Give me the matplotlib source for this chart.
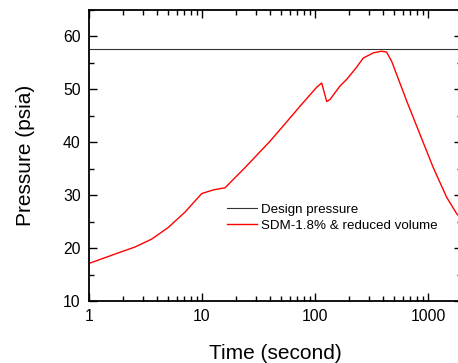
import matplotlib
matplotlib.use("Agg")
import matplotlib.pyplot as plt
from matplotlib.ticker import LogLocator, MultipleLocator, FixedLocator, FixedFormatter

plt.rcParams["font.family"] = ["Liberation Sans", "DejaVu Sans"]

# Design pressure limit (psia)
DESIGN_PRESSURE = 57.7

# SDM-1.8% & reduced volume case
time_s = [1, 1.82, 2.55, 3.59, 5.03, 7.07, 9.94, 12.6, 16.0, 24.0, 40.0, 52.4,
          73.6, 103.5, 114.6, 127, 136, 166, 191, 230, 267, 328, 387, 430,
          477, 648, 849, 1114, 1463, 1795, 2000]
pressure = [17.1, 19.1, 20.2, 21.7, 23.9, 26.8, 30.3, 31.0, 31.4, 35.2, 40.2,
            43.1, 46.8, 50.4, 51.2, 47.7, 48.1, 50.6, 51.9, 54.0, 55.9, 56.9,
            57.2, 57.05, 55.3, 47.8, 41.5, 35.2, 29.6, 26.5, 25.4]

fig = plt.figure(figsize=(4.58, 3.63), dpi=100)
ax = fig.add_axes([89 / 458, 62 / 363, (462 - 89) / 458, 291 / 363])

ax.axhline(DESIGN_PRESSURE, color="#333333", linewidth=0.8, label="Design pressure")
ax.plot(time_s, pressure, color="#ff0000", linewidth=1.0,
        label="SDM-1.8% & reduced volume")

ax.set_xscale("log")
ax.set_xlim(1, 2000)
ax.set_ylim(10, 65)

ax.xaxis.set_major_locator(FixedLocator([1, 10, 100, 1000]))
ax.xaxis.set_major_formatter(FixedFormatter(["1", "10", "100", "1000"]))
ax.xaxis.set_minor_locator(LogLocator(base=10, subs=range(2, 10), numticks=20))
ax.yaxis.set_major_locator(MultipleLocator(10))
ax.yaxis.set_minor_locator(MultipleLocator(5))

ax.tick_params(which="both", direction="in", top=True, right=True,
               labelsize=11.3, width=1.0, pad=6)
ax.tick_params(which="major", length=6)
ax.tick_params(which="minor", length=3.3)
for sp in ax.spines.values():
    sp.set_linewidth(1.3)

ax.set_xlabel("Time (second)", fontsize=15, labelpad=14)
ax.set_ylabel("Pressure (psia)", fontsize=15, labelpad=20)

ax.legend(loc="upper left", bbox_to_anchor=(0.355, 0.354), frameon=False,
          fontsize=9.6, handlelength=2.25, handletextpad=0.3, labelspacing=0.3,
          borderaxespad=0)

fig.savefig("out.png", dpi=100)
